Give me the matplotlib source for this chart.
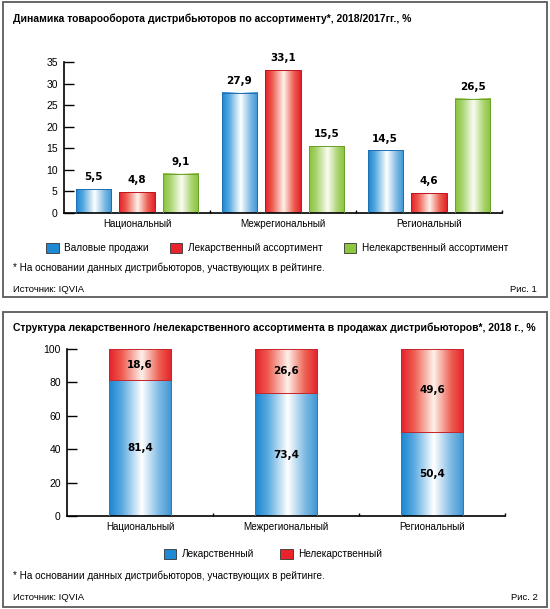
## Libraries
import numpy as np
import matplotlib
matplotlib.use('Agg')
import matplotlib.pyplot as plt
from matplotlib.colors import LinearSegmentedColormap
from matplotlib.patches import Rectangle, Patch

plt.rcParams['font.family'] = ['Liberation Sans', 'DejaVu Sans']

## Data
cats = ['Национальный', 'Межрегиональный', 'Региональный']

# Fig. 1 - turnover dynamics 2018/2017, %
gross = [5.5, 27.9, 14.5]
drug = [4.8, 33.1, 4.6]
nondrug = [9.1, 15.5, 26.5]
names1 = ['Валовые продажи', 'Лекарственный ассортимент', 'Нелекарственный ассортимент']
yticks1 = [0, 5, 10, 15, 20, 25, 30, 35]

# Fig. 2 - structure of sales, 2018, %
drug_share = [81.4, 73.4, 50.4]
nondrug_share = [18.6, 26.6, 49.6]
names2 = ['Лекарственный', 'Нелекарственный']
yticks2 = [0, 20, 40, 60, 80, 100]

title1 = 'Динамика товарооборота дистрибьюторов по ассортименту*, 2018/2017гг., %'
title2 = 'Структура лекарственного /нелекарственного ассортимента в продажах дистрибьюторов*, 2018 г., %'
note = '* На основании данных дистрибьюторов, участвующих в рейтинге.'
source = 'Источник: IQVIA'

## Colours
blue, red, green = '#1E8AD3', '#E8232B', '#8DC63F'
blue_cm = LinearSegmentedColormap.from_list('b', [(0, '#1A86D0'), (0.2, '#58A9E0'), (0.52, '#FFFFFF'), (0.8, '#7DB9E4'), (1, '#3C95D3')])
red_cm = LinearSegmentedColormap.from_list('r', [(0, '#E6202A'), (0.2, '#EE5A4E'), (0.52, '#FDF1EA'), (0.8, '#EE5F52'), (1, '#E2222B')])
green_cm = LinearSegmentedColormap.from_list('g', [(0, '#86C23A'), (0.2, '#A9D46E'), (0.52, '#FAFCF2'), (0.8, '#AAD46E'), (1, '#86C23A')])

W, H = 550, 609


def fx(x):
    return x / W


def fy(y):
    return 1 - y / H


def axes_px(l, t, r, b):
    return fig.add_axes([fx(l), fy(b), (r - l) / W, (b - t) / H])


def shade(ax, bars, cmap, edge):
    # cylinder look: horizontal gradient inside every bar
    grad = np.linspace(0, 1, 256).reshape(1, -1)
    for b in bars:
        x0, y0 = b.get_x(), b.get_y()
        ax.imshow(grad, cmap=cmap, aspect='auto', interpolation='bilinear',
                  extent=[x0, x0 + b.get_width(), y0, y0 + b.get_height()], zorder=2)
        b.set_facecolor('none')
        b.set_edgecolor(edge)
        b.set_linewidth(0.7)
        b.set_zorder(3)


def style_axes(ax, yticks):
    ax.spines[['top', 'right']].set_visible(False)
    ax.spines[['left', 'bottom']].set_linewidth(1.2)
    ax.set_xlim(-0.5, 2.5)
    ax.set_ylim(yticks[0], yticks[-1])
    ax.set_yticks(yticks)
    ax.set_xticks(range(len(cats)))
    ax.set_xticklabels(cats)
    ax.set_xticks([0.5, 1.5, 2.5], minor=True)
    ax.tick_params(axis='y', direction='in', length=7.5, width=1, pad=4.5, labelsize=7.5)
    ax.tick_params(axis='x', which='major', length=0, pad=4, labelsize=7.1)
    ax.tick_params(axis='x', which='minor', direction='in', length=2.5, width=1)


def fmt(v):
    return f'{v:.1f}'.replace('.', ',')


fig = plt.figure(figsize=(W / 100, H / 100), dpi=100)

# frames around both figures
for top, bot in [(2, 297), (312, 607)]:
    fig.add_artist(Rectangle((fx(3), fy(bot)), (547 - 3) / W, (bot - top) / H, transform=fig.transFigure,
                             fill=False, ec='#5A5A5A', lw=1.3))

## Fig. 1
ax1 = axes_px(64, 62, 502, 213)
x = np.arange(len(cats))
bw, off = 0.24, 0.30
for vals, dx, cm, edge in [(gross, -off, blue_cm, '#1F6FB0'), (drug, 0, red_cm, '#C0141C'), (nondrug, off, green_cm, '#6AA02A')]:
    bars = ax1.bar(x + dx, vals, bw)
    shade(ax1, bars, cm, edge)
    for b, v in zip(bars, vals):
        ax1.annotate(fmt(v), (b.get_x() + b.get_width() / 2, v), xytext=(0, 8.5), textcoords='offset points',
                     ha='center', va='center', fontsize=7.5, fontweight='bold', family='DejaVu Sans')
style_axes(ax1, yticks1)

h1 = [Patch(fc=c, ec='#333333', lw=0.6) for c in (blue, red, green)]
fig.legend(h1, names1, loc='center', bbox_to_anchor=(fx(277), fy(248)), ncol=3, frameon=False, fontsize=7.2,
           handlelength=1.25, handleheight=1.2, handletextpad=0.55, columnspacing=2.1, borderpad=0, borderaxespad=0)

fig.text(fx(13), fy(19), title1, fontsize=7.5, fontweight='bold', va='center')
fig.text(fx(13), fy(268), note, fontsize=7.2, va='center')
fig.text(fx(13), fy(289), source, fontsize=6.8, va='center')
fig.text(fx(537), fy(289), 'Рис. 1', fontsize=6.8, va='center', ha='right')

## Fig. 2
ax2 = axes_px(67, 349, 505, 516)
bw2 = 0.425
bars_d = ax2.bar(x, drug_share, bw2)
bars_n = ax2.bar(x, nondrug_share, bw2, bottom=drug_share)
shade(ax2, bars_d, blue_cm, '#2A7DBE')
shade(ax2, bars_n, red_cm, '#C8262B')
for bars, vals in [(bars_d, drug_share), (bars_n, nondrug_share)]:
    for b, v in zip(bars, vals):
        ax2.text(b.get_x() + b.get_width() / 2, b.get_y() + v / 2, fmt(v), ha='center', va='center',
                 fontsize=7.5, fontweight='bold', family='DejaVu Sans')
style_axes(ax2, yticks2)

h2 = [Patch(fc=c, ec='#333333', lw=0.6) for c in (blue, red)]
fig.legend(h2, names2, loc='center', bbox_to_anchor=(fx(273), fy(554)), ncol=2, frameon=False, fontsize=7.2,
           handlelength=1.25, handleheight=1.2, handletextpad=0.55, columnspacing=2.6, borderpad=0, borderaxespad=0)

fig.text(fx(13), fy(328), title2, fontsize=7.5, fontweight='bold', va='center')
fig.text(fx(13), fy(576), note, fontsize=7.2, va='center')
fig.text(fx(13), fy(598), source, fontsize=6.8, va='center')
fig.text(fx(538), fy(598), 'Рис. 2', fontsize=6.8, va='center', ha='right')

plt.savefig('out.png', dpi=100)
